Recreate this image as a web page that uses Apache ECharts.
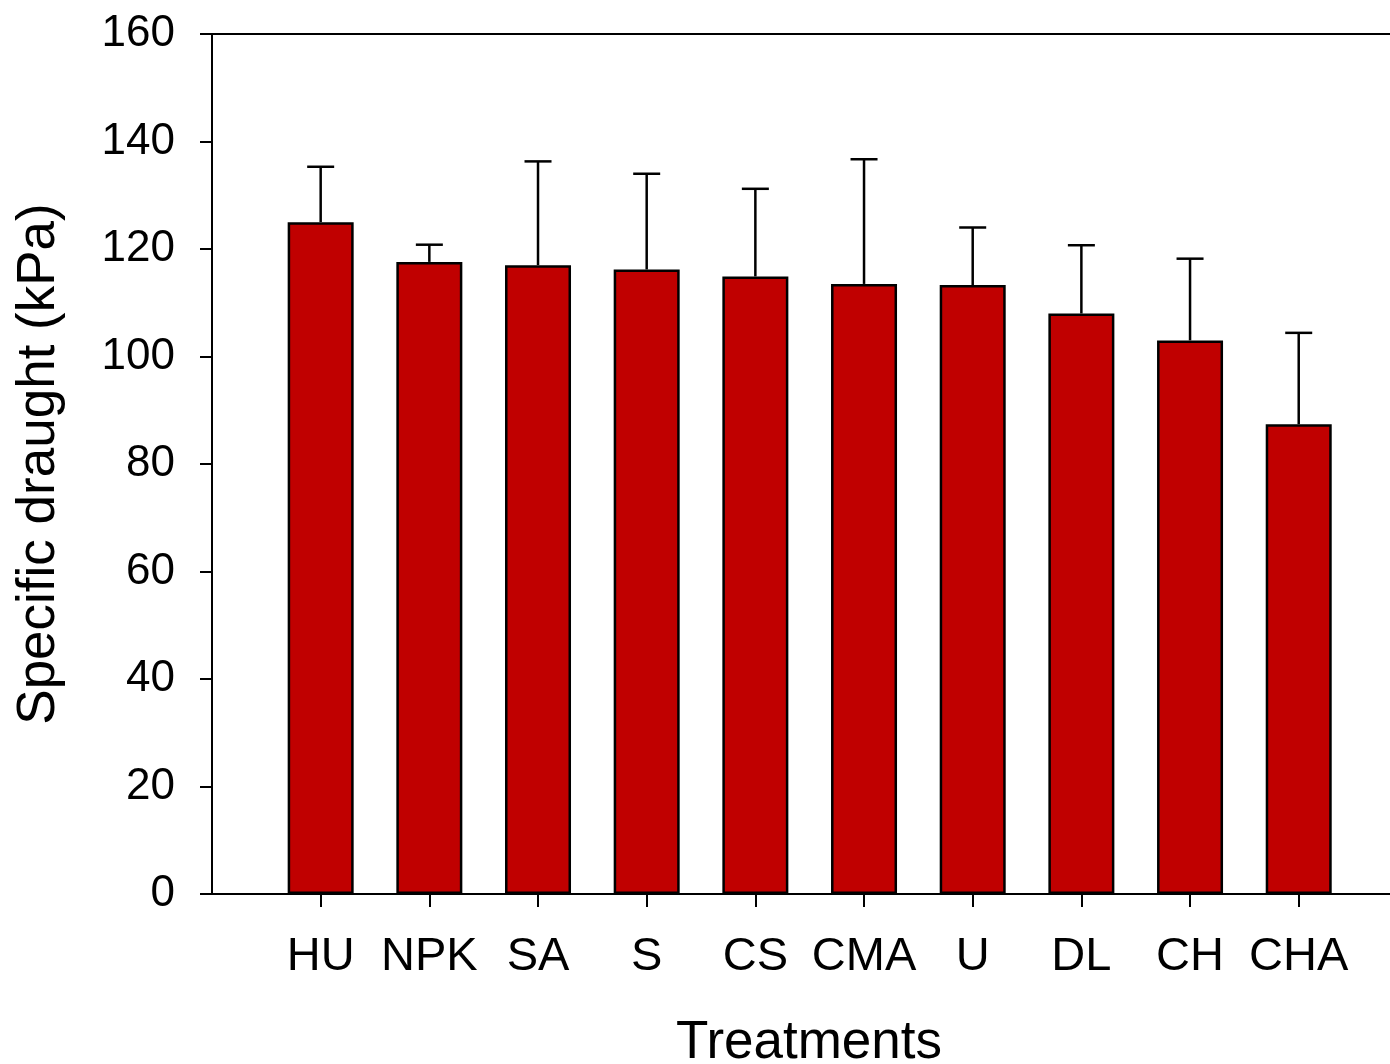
<!DOCTYPE html>
<html>
<head>
<meta charset="utf-8">
<style>
  html, body { margin: 0; padding: 0; background: #fff; }
  #chart { width: 1390px; height: 1064px; }
</style>
<script src="https://cdn.jsdelivr.net/npm/echarts@6/dist/echarts.min.js"></script>
</head>
<body>
<div id="chart"></div>
<script>
var treatments = ['HU', 'NPK', 'SA', 'S', 'CS', 'CMA', 'U', 'DL', 'CH', 'CHA'];
var draughtMean = [125.0, 117.6, 117.0, 116.2, 114.9, 113.5, 113.3, 108.0, 103.0, 87.4];
var draughtErr = [10.3, 3.2, 19.3, 17.8, 16.3, 23.2, 10.7, 12.7, 15.2, 17.0];
var positions = [1, 2, 3, 4, 5, 6, 7, 8, 9, 10];

var font = '"Liberation Sans", Arial, sans-serif';
var barRed = '#C00000';

var chart = echarts.init(document.getElementById('chart'), null, { renderer: 'canvas' });

var barData = positions.map(function(p, i) { return [p, draughtMean[i]]; });
var errData = positions.map(function(p, i) { return [p, draughtMean[i], draughtMean[i] + draughtErr[i]]; });

chart.setOption({
  animation: false,
  backgroundColor: '#fff',
  grid: { left: 212, right: 0, top: 34, bottom: 170, containLabel: false, outerBoundsMode: 'none' },
  xAxis: [
    {
      type: 'value',
      min: 0,
      max: 10.84,
      position: 'bottom',
      name: 'Treatments',
      nameLocation: 'middle',
      nameGap: 123,
      nameTextStyle: { fontFamily: font, fontSize: 53, color: '#000', padding: [0, 0, 0, 16] },
      axisLine: { show: true, onZero: false, lineStyle: { color: '#000', width: 2 } },
      axisTick: { show: true, customValues: positions, length: 13, lineStyle: { color: '#000', width: 2 } },
      axisLabel: {
        customValues: positions,
        margin: 40,
        fontFamily: font,
        fontSize: 47,
        color: '#000',
        formatter: function(v) { return treatments[Math.round(v) - 1] || ''; }
      },
      splitLine: { show: false }
    },
    {
      type: 'value',
      min: 0,
      max: 10.84,
      position: 'top',
      axisLine: { show: true, onZero: false, lineStyle: { color: '#000', width: 2 } },
      axisTick: { show: false },
      axisLabel: { show: false },
      splitLine: { show: false }
    }
  ],
  yAxis: {
    type: 'value',
    min: 0,
    max: 160,
    interval: 20,
    name: 'Specific draught (kPa)',
    nameLocation: 'middle',
    nameGap: 146,
    nameTextStyle: { fontFamily: font, fontSize: 53, color: '#000' },
    axisLine: { show: true, lineStyle: { color: '#000', width: 2 } },
    axisTick: { show: true, length: 12, lineStyle: { color: '#000', width: 2 } },
    axisLabel: { margin: 37, fontFamily: font, fontSize: 44, color: '#000' },
    splitLine: { show: false }
  },
  series: [
    {
      type: 'bar',
      xAxisIndex: 0,
      data: barData,
      barWidth: 66,
      itemStyle: { color: barRed, borderColor: '#000', borderWidth: 2.5 }
    },
    {
      type: 'custom',
      xAxisIndex: 0,
      data: errData,
      z: 3,
      renderItem: function(params, api) {
        var base = api.coord([api.value(0), api.value(1)]);
        var top = api.coord([api.value(0), api.value(2)]);
        var half = 13.5;
        var st = { stroke: '#000', lineWidth: 2.5 };
        return {
          type: 'group',
          children: [
            { type: 'line', shape: { x1: base[0], y1: base[1], x2: top[0], y2: top[1] }, style: st },
            { type: 'line', shape: { x1: top[0] - half, y1: top[1], x2: top[0] + half, y2: top[1] }, style: st }
          ]
        };
      }
    }
  ]
});
</script>
</body>
</html>
